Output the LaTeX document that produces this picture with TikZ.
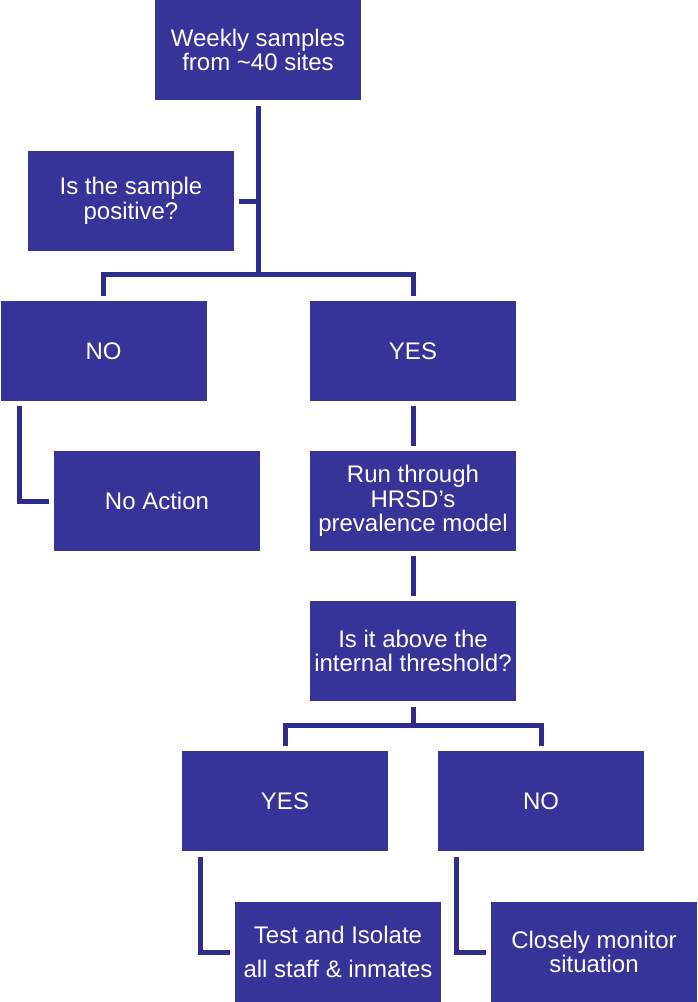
\documentclass[tikz,border=0pt]{standalone}
\usepackage{fontspec}
\setmainfont{Liberation Sans}
\definecolor{boxfill}{RGB}{54,52,152}
\definecolor{linecol}{RGB}{46,45,140}
\begin{document}
\begin{tikzpicture}[x=1pt,y=-1pt,
  box/.style={rectangle, fill=boxfill, draw=none, minimum width=206pt, minimum height=100pt,
    inner sep=0pt, text=white, align=center, font=\fontsize{24}{24.5}\selectfont},
  conn/.style={draw=linecol, line width=5pt, line join=miter, line cap=butt}]
\useasboundingbox (0,0) rectangle (697,1002);
\node[box] (b1) at (258,50) {Weekly samples\\from \textasciitilde40 sites};
\node[box] (b2) at (131,201) {Is the sample\\positive?};
\node[box] (b3) at (103.5,351) {NO};
\node[box] (b4) at (413,351) {YES};
\node[box] (b5) at (157,501) {No Action};
\node[box] (b6) at (413,501) {Run through\\HRSD’s\\prevalence model};
\node[box] (b7) at (413,651) {Is it above the\\internal threshold?};
\node[box] (b8) at (285,801) {YES};
\node[box] (b9) at (541,801) {NO};
\node[box] (b10) at (338,952) {Test and Isolate\\[10pt]all staff \& inmates};
\node[box] (b11) at (594,952) {Closely monitor\\situation};
\coordinate (j1) at (258,275);
\coordinate (j2) at (413,726);
% top stem
\draw[conn, shorten <=6pt] (b1.south) -- (j1);
\draw[conn, shorten <=5pt] (b2.east) -- (b2.east -| b1.south);
\draw[conn, shorten <=5pt, shorten >=5pt] (b3.north) -- ++(0,-26) -| (b4.north);
% NO -> No Action
\draw[conn, shorten <=5pt, shorten >=5pt] ([xshift=19.5pt]b3.south west) |- (b5.west);
% YES chain
\draw[conn, shorten <=5pt, shorten >=5pt] (b4.south) -- (b6.north);
\draw[conn, shorten <=5pt, shorten >=5pt] (b6.south) -- (b7.north);
\draw[conn, shorten <=6pt] (b7.south) -- (j2);
\draw[conn, shorten <=5pt, shorten >=5pt] (b8.north) -- ++(0,-25) -| (b9.north);
\draw[conn, shorten <=6pt, shorten >=5pt] ([xshift=18.5pt]b8.south west) |- (b10.west);
\draw[conn, shorten <=6pt, shorten >=5pt] ([xshift=18.5pt]b9.south west) |- (b11.west);
\end{tikzpicture}
\end{document}
